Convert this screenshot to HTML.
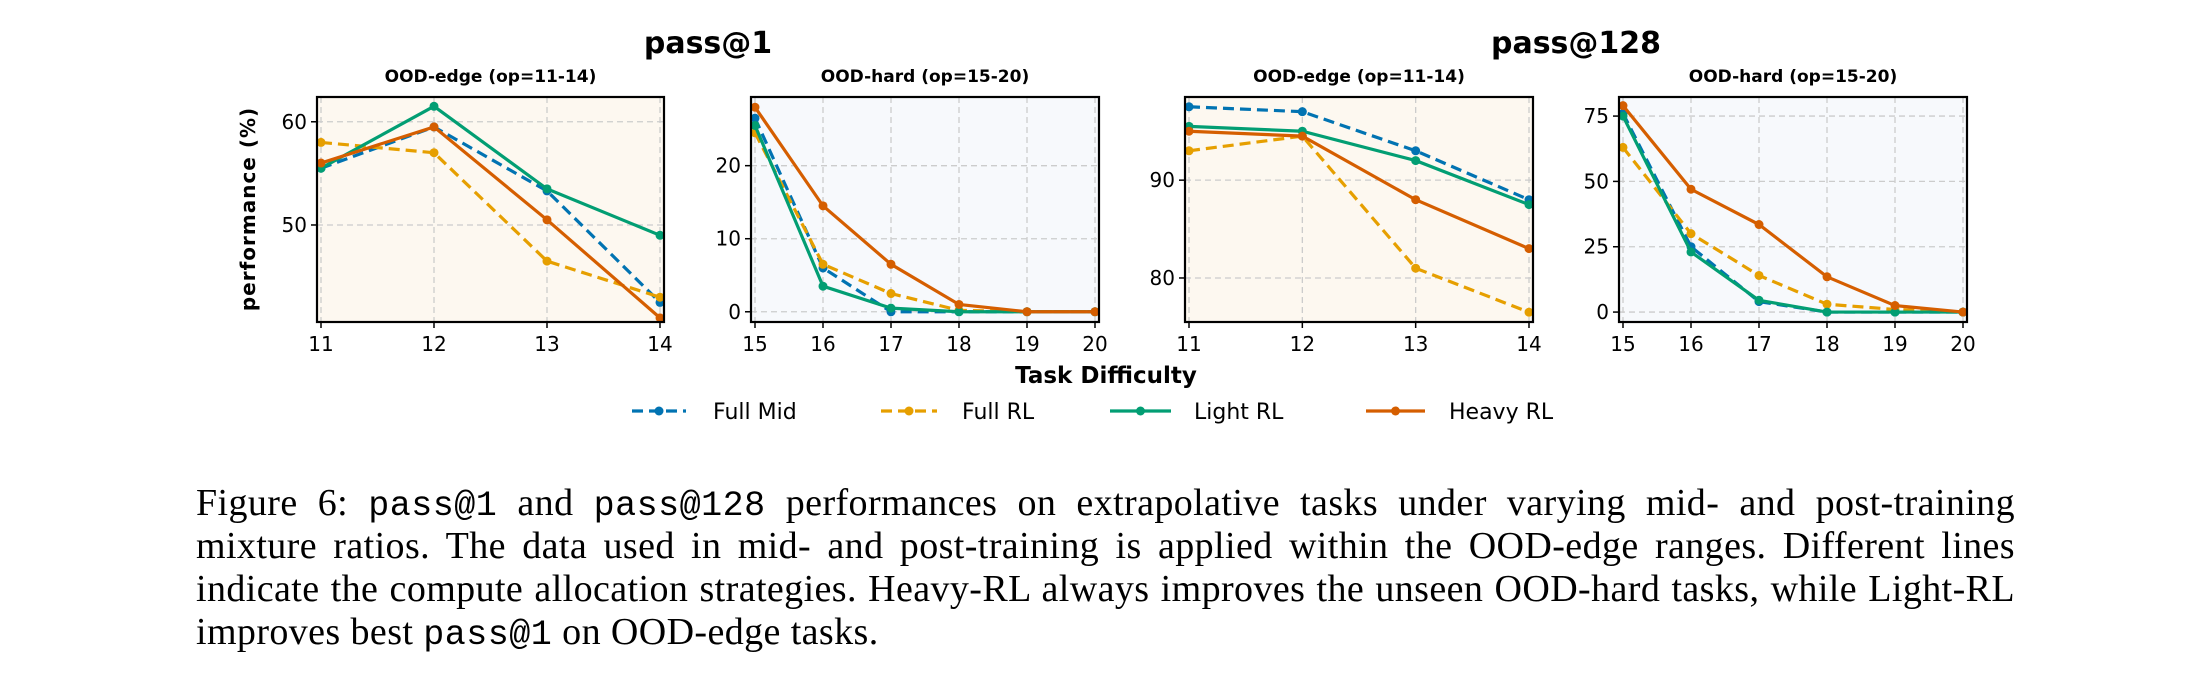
<!DOCTYPE html>
<html><head><meta charset="utf-8">
<style>
body{margin:0;background:#fff;width:2210px;height:688px;overflow:hidden;position:relative}
#cap{position:absolute;left:196px;top:482px;width:1819px;font-family:"Liberation Serif",serif;font-size:38px;line-height:43px;color:#000;letter-spacing:0.4px}
#cap .ln{text-align:justify;text-align-last:justify;white-space:nowrap;height:43px}
#cap .last{text-align-last:left}
#cap .m{font-family:"Liberation Mono",monospace;font-size:35px;letter-spacing:0.5px}
</style></head><body>
<svg id="chart" width="2210" height="470" style="position:absolute;left:0;top:0" font-family="DejaVu Sans, sans-serif"></svg>
<div id="cap">
<div class="ln">Figure 6: <span class="m">pass@1</span> and <span class="m">pass@128</span> performances on extrapolative tasks under varying mid- and post-training</div>
<div class="ln">mixture ratios. The data used in mid- and post-training is applied within the OOD-edge ranges. Different lines</div>
<div class="ln">indicate the compute allocation strategies. Heavy-RL always improves the unseen OOD-hard tasks, while Light-RL</div>
<div class="ln last">improves best <span class="m">pass@1</span> on OOD-edge tasks.</div>
</div>
<script>
const seriesNames=["Full Mid","Full RL","Light RL","Heavy RL"];
const edgeX=[11,12,13,14];
const hardX=[15,16,17,18,19,20];
const p1EdgeFullMid=[55.5,59.5,53.3,42.5];
const p1EdgeFullRL=[58,57,46.5,43];
const p1EdgeLightRL=[55.5,61.5,53.5,49];
const p1EdgeHeavyRL=[56,59.5,50.5,41];
const p1HardFullMid=[26.5,6,0,0,0,0];
const p1HardFullRL=[24.5,6.5,2.5,0.2,0,0];
const p1HardLightRL=[25.5,3.5,0.5,0,0,0];
const p1HardHeavyRL=[28,14.5,6.5,1,0,0];
const p128EdgeFullMid=[97.5,97,93,88];
const p128EdgeFullRL=[93,94.5,81,76.5];
const p128EdgeLightRL=[95.5,95,92,87.5];
const p128EdgeHeavyRL=[95,94.5,88,83];
const p128HardFullMid=[76,25,4,0,0,0];
const p128HardFullRL=[63,30,14,3,1,0];
const p128HardLightRL=[75,23,4.5,0,0,0];
const p128HardHeavyRL=[79,47,33.5,13.5,2.5,0];
const colors=["#0173b2","#e69f00","#029e73","#d55e00"];
const dashed=[true,true,false,false];
const NS="http://www.w3.org/2000/svg";
const svg=document.getElementById('chart');
function mk(t,a,p){const e=document.createElementNS(NS,t);for(const k in a)e.setAttribute(k,a[k]);(p||svg).appendChild(e);return e;}
const panels=[
 {l:317,r:664,title:"OOD-edge (op=11-14)",x:edgeX,ymin:40.6,ymax:62.4,ticks:[50,60],bg:"#fdf8f0",data:[p1EdgeFullMid,p1EdgeFullRL,p1EdgeLightRL,p1EdgeHeavyRL],name:"pass1-edge"},
 {l:751,r:1099,title:"OOD-hard (op=15-20)",x:hardX,ymin:-1.4,ymax:29.4,ticks:[0,10,20],bg:"#f7f9fc",data:[p1HardFullMid,p1HardFullRL,p1HardLightRL,p1HardHeavyRL],name:"pass1-hard"},
 {l:1185,r:1533,title:"OOD-edge (op=11-14)",x:edgeX,ymin:75.5,ymax:98.5,ticks:[80,90],bg:"#fdf8f0",data:[p128EdgeFullMid,p128EdgeFullRL,p128EdgeLightRL,p128EdgeHeavyRL],name:"pass128-edge"},
 {l:1619,r:1967,title:"OOD-hard (op=15-20)",x:hardX,ymin:-3.8,ymax:82.3,ticks:[0,25,50,75],bg:"#f7f9fc",data:[p128HardFullMid,p128HardFullRL,p128HardLightRL,p128HardHeavyRL],name:"pass128-hard"}
];
const T=97,B=322;
panels.forEach(p=>{
 const g=mk('g',{});
 
 
 const x0=p.x[0],x1=p.x[p.x.length-1];
 const sx=v=>p.l+4+(v-x0)/(x1-x0)*(p.r-p.l-8);
 const sy=v=>B-(v-p.ymin)/(p.ymax-p.ymin)*(B-T);
 mk('rect',{x:p.l,y:T,width:p.r-p.l,height:B-T,fill:p.bg},g);
 p.ticks.forEach(t=>{mk('line',{x1:p.l,x2:p.r,y1:sy(t),y2:sy(t),stroke:"#ccc","stroke-dasharray":"6,4","stroke-width":1.3},g);
  const tl=mk('text',{x:p.l-10,y:sy(t)+7,"text-anchor":"end","font-size":20},g);tl.textContent=t;
  
  mk('line',{x1:p.l-6,x2:p.l,y1:sy(t),y2:sy(t),stroke:"#000","stroke-width":1.5},g);});
 p.x.forEach(v=>{mk('line',{x1:sx(v),x2:sx(v),y1:T,y2:B,stroke:"#ccc","stroke-dasharray":"6,4","stroke-width":1.3},g);
  mk('line',{x1:sx(v),x2:sx(v),y1:B,y2:B+6,stroke:"#000","stroke-width":1.5},g);
  const tl=mk('text',{x:sx(v),y:B+29,"text-anchor":"middle","font-size":20},g);tl.textContent=v;
  });
 p.data.forEach((d,i)=>{
  const pts=d.map((v,j)=>sx(p.x[j])+","+sy(v)).join(" ");
  const pl=mk('polyline',{points:pts,fill:"none",stroke:colors[i],"stroke-width":3.2,"stroke-dasharray":dashed[i]?"11,6":"none"},g);
  
  
  d.forEach((v,j)=>{const c=mk('circle',{cx:sx(p.x[j]),cy:sy(v),r:4.5,fill:colors[i]},g);
   });
 });
 mk('rect',{x:p.l,y:T,width:p.r-p.l,height:B-T,fill:"none",stroke:"#000","stroke-width":2.2},g);
 const st=mk('text',{x:(p.l+p.r)/2,y:82,"text-anchor":"middle","font-size":17,"font-weight":"bold"},g);st.textContent=p.title;
 
});
function txt(x,y,s,size,name,extra){const t=mk('text',Object.assign({x:x,y:y,"text-anchor":"middle","font-size":size,"font-weight":"bold"},extra||{}));t.textContent=s;
 return t;}
txt(708,53,"pass@1",30,"pass1-title");
txt(1576,53,"pass@128",30,"pass128-title");
txt(1106,383,"Task Difficulty",23,"x-axis-title");
txt(255,209,"performance (%)",20,"y-axis-title",{transform:"rotate(-90 255 209)","letter-spacing":"1"});
const legX=[[632,686,713],[881,937,962],[1110,1171,1194],[1366,1425,1449]];
seriesNames.forEach((n,i)=>{
 const g=mk('g',{});
 
 
 const [a,b,c]=legX[i];
 mk('line',{x1:a,x2:b,y1:411,y2:411,stroke:colors[i],"stroke-width":3.2,"stroke-dasharray":dashed[i]?"11,6":"none"},g);
 mk('circle',{cx:(a+b)/2,cy:411,r:4.5,fill:colors[i]},g);
 const t=mk('text',{x:c,y:419,"font-size":22},g);t.textContent=n;
});
</script>
</body></html>
